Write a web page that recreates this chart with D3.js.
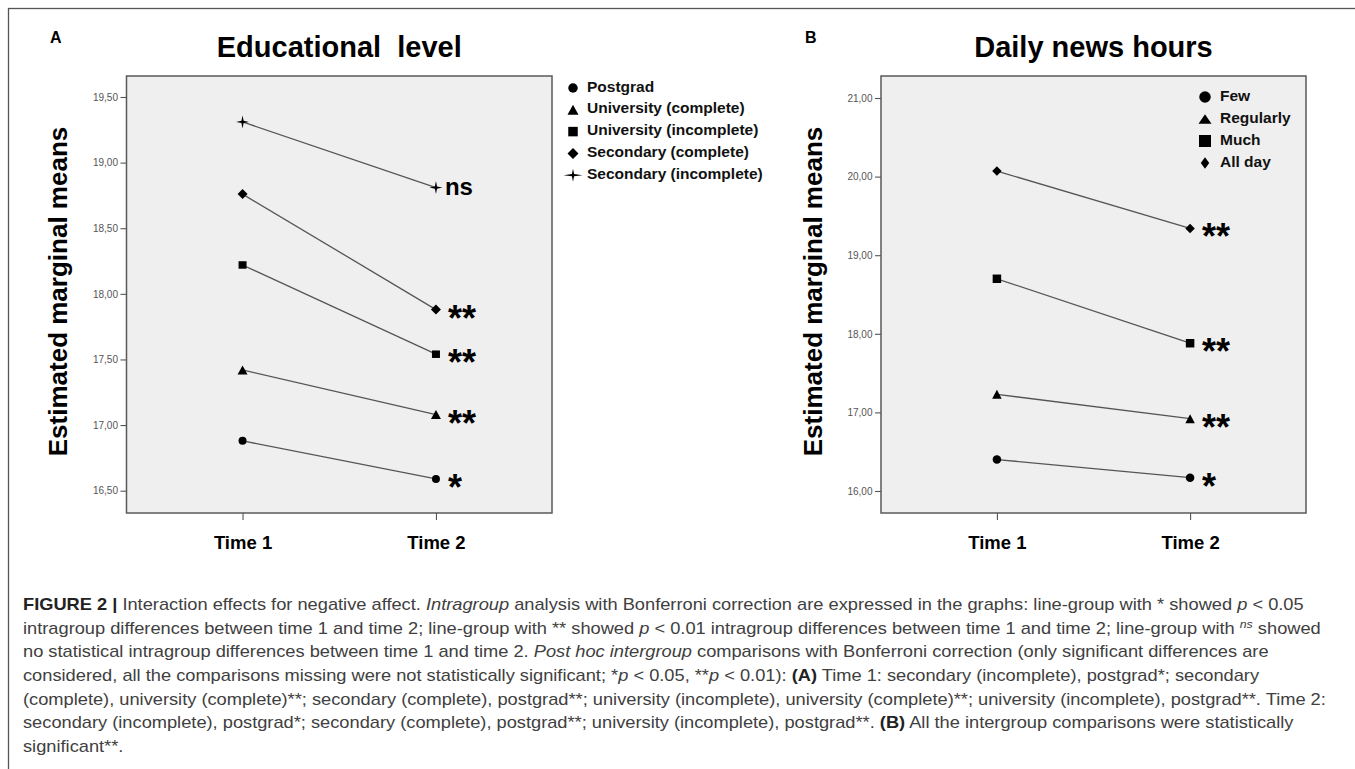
<!DOCTYPE html>
<html>
<head>
<meta charset="utf-8">
<title>Figure 2 – Interaction effects for negative affect</title>
<script src="https://cdn.jsdelivr.net/npm/d3@7"></script>
<style>
  html, body { margin: 0; padding: 0; background: #ffffff; }
  svg { display: block; }
  text { font-family: "Liberation Sans", Arial, Helvetica, sans-serif; }
</style>
</head>
<body>
<svg id="fig" width="1355" height="769"></svg>
<script>
// ---------------------------------------------------------------
// Data: estimated marginal means of negative affect
// ---------------------------------------------------------------
const timePoints = ["Time 1", "Time 2"];

// Panel A — educational level
const eduGroups = ["Postgrad", "University (complete)", "University (incomplete)",
                   "Secondary (complete)", "Secondary (incomplete)"];
const eduTime1 = [16.88, 17.42, 18.22, 18.76, 19.31];
const eduTime2 = [16.59, 17.08, 17.54, 17.88, 18.81];
const eduSig   = ["*", "**", "**", "**", "ns"];
const eduTicks = [16.5, 17.0, 17.5, 18.0, 18.5, 19.0, 19.5];
const eduRange = [16.33, 19.66];

// Panel B — daily news hours
const newsGroups = ["Few", "Regularly", "Much", "All day"];
const newsTime1  = [16.40, 17.23, 18.70, 20.07];
const newsTime2  = [16.17, 16.92, 17.88, 19.34];
const newsSig    = ["*", "**", "**", "**"];
const newsTicks  = [16, 17, 18, 19, 20, 21];
const newsRange  = [15.72, 21.28];

// Caption, one array entry per printed line; each segment is [text, style]
const captionLines = [
  [["FIGURE 2 |", "b"], [" Interaction effects for negative affect. ", ""], ["Intragroup", "i"],
   [" analysis with Bonferroni correction are expressed in the graphs: line-group with * showed ", ""],
   ["p", "i"], [" < 0.05", ""]],
  [["intragroup differences between time 1 and time 2; line-group with ** showed ", ""], ["p", "i"],
   [" < 0.01 intragroup differences between time 1 and time 2; line-group with ", ""], ["ns", "sup"],
   [" showed", "after-sup"]],
  [["no statistical intragroup differences between time 1 and time 2. ", ""], ["Post hoc intergroup", "i"],
   [" comparisons with Bonferroni correction (only significant differences are", ""]],
  [["considered, all the comparisons missing were not statistically significant; *", ""], ["p", "i"],
   [" < 0.05, **", ""], ["p", "i"], [" < 0.01): ", ""], ["(A)", "b"],
   [" Time 1: secondary (incomplete), postgrad*; secondary", ""]],
  [["(complete), university (complete)**; secondary (complete), postgrad**; university (incomplete), university (complete)**; university (incomplete), postgrad**. Time 2:", ""]],
  [["secondary (incomplete), postgrad*; secondary (complete), postgrad**; university (incomplete), postgrad**. ", ""],
   ["(B)", "b"], [" All the intergroup comparisons were statistically", ""]],
  [["significant**.", ""]]
];
// right-hand ends of the printed caption lines (used to fit the type width)
const captionLineEnds = [1303, 1338, 1262, 1266, 1318, 1291];

// ---------------------------------------------------------------
// Marker shapes (centred on 0,0)
// ---------------------------------------------------------------
function shapePath(kind, w, h) {
  const p = d3.path();
  if (kind === "circle") {
    p.arc(0, 0, w / 2, 0, 2 * Math.PI);
  } else if (kind === "square") {
    p.rect(-w / 2, -h / 2, w, h);
  } else if (kind === "triangle") {
    p.moveTo(0, -h / 2); p.lineTo(w / 2, h / 2); p.lineTo(-w / 2, h / 2); p.closePath();
  } else if (kind === "diamond") {
    p.moveTo(0, -h / 2); p.lineTo(w / 2, 0); p.lineTo(0, h / 2); p.lineTo(-w / 2, 0); p.closePath();
  } else if (kind === "star") {
    const t = 1.1;
    p.moveTo(0, -h / 2); p.lineTo(t, -t); p.lineTo(w / 2, 0); p.lineTo(t, t);
    p.lineTo(0, h / 2); p.lineTo(-t, t); p.lineTo(-w / 2, 0); p.lineTo(-t, -t); p.closePath();
  }
  return p.toString();
}

// ---------------------------------------------------------------
// Panel layout
// ---------------------------------------------------------------
const panels = [
  {
    letter: "A", title: "Educational  level",
    groups: eduGroups, t1: eduTime1, t2: eduTime2, sig: eduSig,
    ticks: eduTicks, range: eduRange,
    box: { x0: 126.5, x1: 552, y0: 76, y1: 513 },
    letterPos: [50, 43], yTitleX: 67,
    shapes: ["circle", "triangle", "square", "diamond", "star"],
    markSize: [[8, 8], [10, 9], [8, 7.5], [10, 10], [13, 13]],
    legend: { mx: 573, tx: 587, y0: 88, step: 21.8, font: 15.5,
              size: [[9.5, 9.5], [11, 10], [9.5, 9.5], [11, 11], [19, 13]] }
  },
  {
    letter: "B", title: "Daily news hours",
    groups: newsGroups, t1: newsTime1, t2: newsTime2, sig: newsSig,
    ticks: newsTicks, range: newsRange,
    box: { x0: 881, x1: 1306, y0: 76, y1: 513 },
    letterPos: [805, 43], yTitleX: 822,
    shapes: ["circle", "triangle", "square", "diamond"],
    markSize: [[8.5, 8.5], [9.5, 9], [8.5, 8.5], [9.5, 9.5]],
    legend: { mx: 1205, tx: 1220, y0: 97, step: 22, font: 15.5,
              size: [[11.5, 11.5], [13, 9.5], [12, 12], [8.5, 11.5]] }
  }
];

const svg = d3.select("#fig");

// figure frame
svg.append("rect")
  .attr("x", 8.5).attr("y", 8.5).attr("width", 1400).attr("height", 800)
  .attr("fill", "none").attr("stroke", "#555").attr("stroke-width", 1.3);

const tickFmt = d => d3.format(".2f")(d).replace(".", ",");

panels.forEach(P => {
  const b = P.box;
  const g = svg.append("g");

  const x = d3.scalePoint().domain(timePoints).range([b.x0, b.x1]).padding(0.6);
  const y = d3.scaleLinear().domain(P.range).range([b.y1, b.y0]);

  // plot area
  g.append("rect")
    .attr("x", b.x0).attr("y", b.y0)
    .attr("width", b.x1 - b.x0).attr("height", b.y1 - b.y0)
    .attr("fill", "#efefef").attr("stroke", "#5a5a5a").attr("stroke-width", 1.5);

  // value axis
  const ya = g.append("g").attr("transform", `translate(${b.x0},0)`)
    .call(d3.axisLeft(y).tickValues(P.ticks).tickSize(6).tickPadding(2.5).tickFormat(tickFmt));
  ya.select(".domain").remove();
  ya.selectAll(".tick line").attr("stroke", "#555").attr("stroke-width", 1.1);
  ya.selectAll(".tick text").attr("font-size", 10).attr("fill", "#555")
    .attr("font-family", "Liberation Sans, Arial, sans-serif");

  // time axis
  const xa = g.append("g").attr("transform", `translate(0,${b.y1})`)
    .call(d3.axisBottom(x).tickSize(7).tickPadding(16));
  xa.select(".domain").remove();
  xa.selectAll(".tick line").attr("stroke", "#555").attr("stroke-width", 1.1);
  xa.selectAll(".tick text").attr("font-size", 18.5).attr("font-weight", "bold").attr("fill", "#000")
    .attr("font-family", "Liberation Sans, Arial, sans-serif");

  // titles
  g.append("text")
    .attr("x", P.letterPos[0]).attr("y", P.letterPos[1])
    .attr("font-size", 16).attr("font-weight", "bold").text(P.letter);

  g.append("text")
    .attr("x", (b.x0 + b.x1) / 2).attr("y", 57)
    .attr("text-anchor", "middle").attr("font-size", 29).attr("font-weight", "bold")
    .style("white-space", "pre").text(P.title);

  g.append("text")
    .attr("transform", `translate(${P.yTitleX},${(b.y0 + b.y1) / 2 - 3}) rotate(-90)`)
    .attr("text-anchor", "middle").attr("font-size", 26).attr("font-weight", "bold")
    .text("Estimated marginal means");

  // group series
  const rows = P.groups.map((name, i) => ({
    name, shape: P.shapes[i], size: P.markSize[i], sig: P.sig[i],
    pts: [[timePoints[0], P.t1[i]], [timePoints[1], P.t2[i]]]
  }));

  const line = d3.line().x(d => x(d[0])).y(d => y(d[1]));

  g.selectAll("path.series").data(rows).join("path")
    .attr("class", "series")
    .attr("d", d => line(d.pts))
    .attr("fill", "none").attr("stroke", "#555").attr("stroke-width", 1.3);

  rows.forEach(r => {
    g.selectAll(null).data(r.pts).join("path")
      .attr("transform", d => `translate(${x(d[0])},${y(d[1])})`)
      .attr("d", shapePath(r.shape, r.size[0], r.size[1]))
      .attr("fill", "#000");
  });

  // significance of the Time 1 → Time 2 change
  g.selectAll("text.sig").data(rows).join("text")
    .attr("class", "sig")
    .attr("x", d => x(timePoints[1]) + (d.sig === "ns" ? 9 : 12))
    .attr("y", d => y(d.pts[1][1]) + (d.sig === "ns" ? 7 : 21))
    .attr("font-size", d => d.sig === "ns" ? 24 : 36)
    .attr("font-weight", "bold").attr("fill", "#000")
    .text(d => d.sig);

  // legend
  const L = P.legend;
  rows.forEach((r, i) => {
    const cy = L.y0 + i * L.step;
    g.append("path")
      .attr("transform", `translate(${L.mx},${cy})`)
      .attr("d", shapePath(r.shape, L.size[i][0], L.size[i][1]))
      .attr("fill", "#000");
    g.append("text")
      .attr("x", L.tx).attr("y", cy + 3.6)
      .attr("font-size", L.font).attr("font-weight", "bold").attr("fill", "#111")
      .style("white-space", "pre")
      .text(r.name);
  });
});

// ---------------------------------------------------------------
// Caption
// ---------------------------------------------------------------
const cap = svg.append("g");
const capText = cap.selectAll("text").data(captionLines).join("text")
  .attr("x", 0)
  .attr("y", (d, i) => 610 + i * 23.7)
  .attr("font-size", 17)
  .attr("fill", "#404040")
  .style("white-space", "pre");

capText.each(function (segs) {
  const t = d3.select(this);
  segs.forEach(([str, style]) => {
    const s = t.append("tspan").text(str);
    if (style === "b") s.attr("font-weight", "bold").attr("fill", "#222");
    if (style === "i") s.attr("font-style", "italic");
    if (style === "sup") s.attr("font-style", "italic").attr("font-size", 11.5).attr("dy", -6);
    if (style === "after-sup") s.attr("dy", 6);
  });
});

// fit the caption type to the printed line lengths
let num = 0, den = 0;
capText.each(function (d, i) {
  if (i < captionLineEnds.length) {
    const w = this.getComputedTextLength();
    const target = captionLineEnds[i] - 23;
    num += w * target; den += w * w;
  }
});
const sx = den > 0 ? num / den : 1;
cap.attr("transform", `translate(23,0) scale(${sx},1)`);
</script>
</body>
</html>
